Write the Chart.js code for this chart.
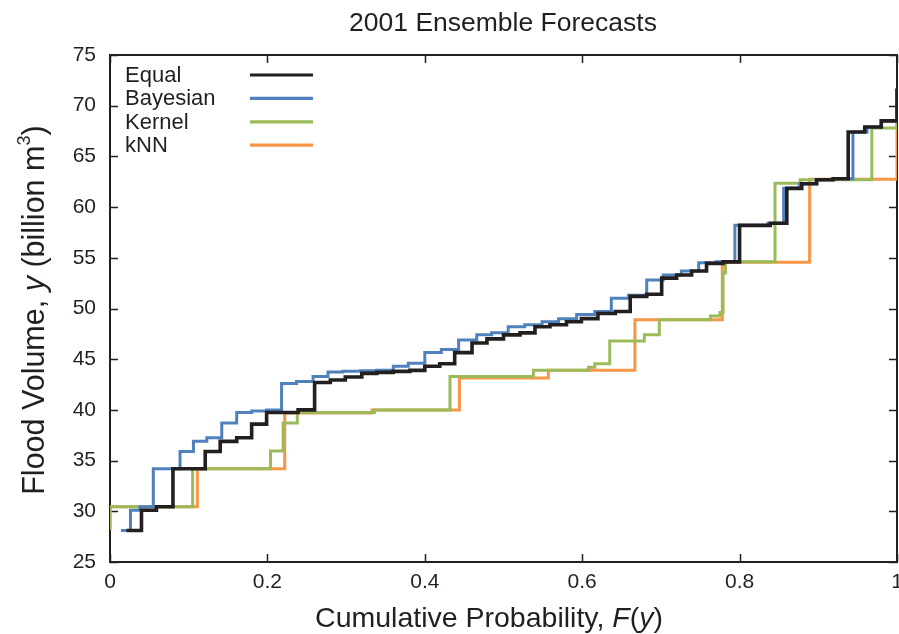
<!DOCTYPE html>
<html>
<head>
<meta charset="utf-8">
<title>2001 Ensemble Forecasts</title>
<script src="https://cdn.jsdelivr.net/npm/chart.js@4.4.1/dist/chart.umd.min.js"></script>
<style>
    html, body { margin: 0; padding: 0; background: #fff; overflow: hidden; }
    #wrap { width: 899px; height: 634px; }
</style>
</head>
<body>
<div id="wrap"><canvas id="chart" width="899" height="634"></canvas></div>
<script>
// Step corners: cumulative probability F(y) and flood volume y (billion m3)
const equalF = [0.021, 0.040, 0.059, 0.080, 0.121, 0.140, 0.161, 0.180, 0.199, 0.239, 0.260, 0.280, 0.299, 0.320, 0.339, 0.360,
    0.381, 0.400, 0.419, 0.438, 0.460, 0.479, 0.500, 0.521, 0.540, 0.559, 0.580, 0.599, 0.620, 0.642, 0.661, 0.682,
    0.701, 0.720, 0.739, 0.758, 0.779, 0.800, 0.839, 0.860, 0.879, 0.898, 0.919, 0.938, 0.959, 0.980, 1.000];
const equalY = [28.1, 30.1, 30.45, 34.2, 35.9, 36.9, 37.25, 38.6, 39.75, 40.0, 42.7, 42.95, 43.25, 43.6, 43.7, 43.8,
    43.9, 44.3, 44.55, 45.65, 46.6, 47.0, 47.4, 47.6, 48.2, 48.4, 48.7, 49.0, 49.5, 49.7, 51.2, 51.4,
    53.0, 53.3, 53.7, 54.45, 54.6, 58.2, 58.4, 61.85, 62.3, 62.7, 62.8, 67.4, 67.9, 68.5, 71.7];

const bayesF = [0.014, 0.026, 0.038, 0.055, 0.089, 0.106, 0.123, 0.142, 0.161, 0.180, 0.199, 0.218, 0.237, 0.258, 0.277, 0.296,
    0.318, 0.339, 0.360, 0.379, 0.400, 0.421, 0.443, 0.466, 0.485, 0.506, 0.527, 0.549, 0.570, 0.593, 0.616, 0.637,
    0.659, 0.682, 0.703, 0.726, 0.748, 0.770, 0.794, 0.836, 0.856, 0.876, 0.897, 0.918, 0.944, 0.962, 0.980, 1.000];
const bayesY = [28.1, 30.1, 30.45, 34.2, 35.9, 36.9, 37.25, 38.7, 39.75, 39.9, 40.0, 42.6, 42.8, 43.3, 43.75, 43.8,
    43.85, 43.9, 44.3, 44.6, 45.65, 45.95, 46.9, 47.4, 47.6, 48.2, 48.4, 48.7, 49.0, 49.4, 49.7, 51.0,
    51.3, 52.8, 53.3, 53.7, 54.5, 54.6, 58.2, 58.4, 61.85, 62.3, 62.7, 62.8, 67.4, 67.9, 68.5, 71.7];

const kernelF = [0.000, 0.000, 0.105, 0.204, 0.220, 0.238, 0.336, 0.432, 0.538, 0.608, 0.616, 0.635, 0.679, 0.698,
    0.763, 0.775, 0.779, 0.782, 0.845, 0.877, 0.968, 1.000];
const kernelY = [28.15, 30.45, 34.2, 35.95, 38.7, 39.75, 40.0, 43.3, 43.9, 44.2, 44.55, 46.8, 47.4, 48.9,
    49.25, 49.6, 53.5, 54.6, 62.35, 62.7, 67.8, 68.5];

const knnF = [0.000, 0.000, 0.111, 0.222, 0.333, 0.444, 0.557, 0.667, 0.778, 0.889, 1.000];
const knnY = [28.15, 30.45, 34.2, 39.7, 40.0, 43.15, 43.9, 48.9, 54.55, 62.75, 68.4];

const xTicks = [0, 0.2, 0.4, 0.6, 0.8, 1];
const yTicks = [25, 30, 35, 40, 45, 50, 55, 60, 65, 70, 75];
const seriesNames = ['Equal', 'Bayesian', 'Kernel', 'kNN'];

// Colors
const colors = {
    equal: '#231f20',
    bayesian: '#4f81bd',
    kernel: '#9bbb59',
    knn: '#f79646',
    text: '#231f20'
};
const seriesColors = [colors.equal, colors.bayesian, colors.kernel, colors.knn];
const FONT = '"Liberation Sans", Arial, Helvetica, sans-serif';

function toPoints(xs, ys) {
    return xs.map((x, i) => ({ x: x, y: ys[i] }));
}

// draw a string made of plain / italic / superscript pieces, centred on cx
function drawRich(ctx, parts, cx, baseY, size) {
    const fontOf = p => (p.italic ? 'italic ' : '') + (p.sup ? size * 0.6 : size).toFixed(1) + 'px ' + FONT;
    let total = 0;
    parts.forEach(p => { ctx.font = fontOf(p); total += ctx.measureText(p.t).width; });
    let x = cx - total / 2;
    ctx.textAlign = 'left';
    ctx.textBaseline = 'alphabetic';
    parts.forEach(p => {
        ctx.font = fontOf(p);
        ctx.fillText(p.t, x, p.sup ? baseY - size * 0.45 : baseY);
        x += ctx.measureText(p.t).width;
    });
}

// frame, inward mirror ticks, legend and titles (gnuplot look)
const decorPlugin = {
    id: 'decor',
    beforeDatasetsDraw(chart) {
        const ctx = chart.ctx;
        const area = chart.chartArea;
        const xs = chart.scales.x, ys = chart.scales.y;
        const tl = 8;
        ctx.save();
        ctx.strokeStyle = colors.text;
        ctx.lineWidth = 1.5;
        ctx.beginPath();
        xTicks.forEach(v => {
            const px = Math.round(xs.getPixelForValue(v)) + 0.5;
            ctx.moveTo(px, area.bottom); ctx.lineTo(px, area.bottom - tl);
            ctx.moveTo(px, area.top); ctx.lineTo(px, area.top + tl);
        });
        yTicks.forEach(v => {
            const py = Math.round(ys.getPixelForValue(v)) + 0.5;
            ctx.moveTo(area.left, py); ctx.lineTo(area.left + tl, py);
            ctx.moveTo(area.right, py); ctx.lineTo(area.right - tl, py);
        });
        ctx.stroke();
        ctx.lineWidth = 2;
        ctx.strokeRect(area.left, area.top, area.right - area.left, area.bottom - area.top);
        ctx.restore();
    },
    afterDraw(chart) {
        const ctx = chart.ctx;
        ctx.save();

        // legend: label on the left, line sample on the right
        ctx.font = '22px ' + FONT;
        ctx.textAlign = 'left';
        ctx.textBaseline = 'middle';
        seriesNames.forEach((name, i) => {
            const y = 75 + i * 23.4;
            ctx.fillStyle = colors.text;
            ctx.fillText(name, 125, y + 1);
            ctx.strokeStyle = seriesColors[i];
            ctx.lineWidth = 3.2;
            ctx.beginPath();
            ctx.moveTo(250, y); ctx.lineTo(313, y);
            ctx.stroke();
        });

        ctx.fillStyle = colors.text;
        drawRich(ctx, [{ t: '2001 Ensemble Forecasts' }], 503, 31, 26.5);
        drawRich(ctx, [
            { t: 'Cumulative Probability, ' }, { t: 'F', italic: true }, { t: '(' }, { t: 'y', italic: true }, { t: ')' }
        ], 489, 627, 28.5);
        ctx.translate(44, 310);
        ctx.rotate(-Math.PI / 2);
        drawRich(ctx, [
            { t: 'Flood Volume, ' }, { t: 'y', italic: true }, { t: ' (billion m' }, { t: '3', sup: true }, { t: ')' }
        ], 0, 0, 30.5);
        ctx.restore();
    }
};

function makeDataset(label, xs, ys, color, width) {
    return {
        label: label,
        data: toPoints(xs, ys),
        borderColor: color,
        backgroundColor: color,
        borderWidth: width,
        stepped: 'before',
        pointRadius: 0,
        fill: false,
        borderJoinStyle: 'miter',
        tension: 0
    };
}

const ctxChart = document.getElementById('chart').getContext('2d');
new Chart(ctxChart, {
    type: 'line',
    data: {
        // first dataset is painted last, so Equal sits on top as in the figure
        datasets: [
            makeDataset(seriesNames[0], equalF, equalY, colors.equal, 3.6),
            makeDataset(seriesNames[1], bayesF, bayesY, colors.bayesian, 3),
            makeDataset(seriesNames[2], kernelF, kernelY, colors.kernel, 3),
            makeDataset(seriesNames[3], knnF, knnY, colors.knn, 3)
        ]
    },
    options: {
        responsive: false,
        animation: false,
        devicePixelRatio: 1,
        layout: { padding: { top: 55, right: 2, bottom: 0, left: 0 } },
        scales: {
            x: {
                type: 'linear',
                min: 0,
                max: 1,
                grid: { display: false, drawTicks: false },
                border: { display: false },
                afterBuildTicks: scale => { scale.ticks = xTicks.map(v => ({ value: v })); },
                afterFit: scale => { scale.height = 72; scale.paddingLeft = 0; scale.paddingRight = 0; },
                ticks: {
                    padding: 8,
                    maxRotation: 0,
                    color: colors.text,
                    font: { family: FONT, size: 21 },
                    callback: v => (v === 0 || v === 1) ? String(v) : v.toFixed(1)
                }
            },
            y: {
                type: 'linear',
                min: 25,
                max: 75,
                grid: { display: false, drawTicks: false },
                border: { display: false },
                afterBuildTicks: scale => { scale.ticks = yTicks.map(v => ({ value: v })); },
                afterFit: scale => { scale.width = 110; scale.paddingTop = 0; scale.paddingBottom = 0; },
                ticks: {
                    padding: 14,
                    color: colors.text,
                    font: { family: FONT, size: 21 }
                }
            }
        },
        plugins: {
            legend: { display: false },
            title: { display: false },
            tooltip: { enabled: false }
        }
    },
    plugins: [decorPlugin]
});
</script>
</body>
</html>
